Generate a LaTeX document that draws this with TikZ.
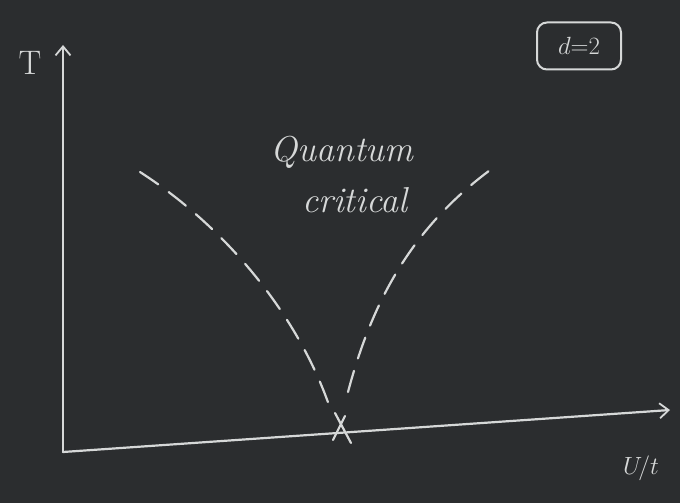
\documentclass[tikz,border=0pt]{standalone}
\usetikzlibrary{arrows.meta,calc}
\definecolor{board}{HTML}{2B2D2F}
\definecolor{chalk}{HTML}{D6D8D8}
\tikzset{
  chalkline/.style={draw=chalk, line width=2.2pt, line cap=round, line join=round},
  axisarrow/.style={chalkline, -{Straight Barb[length=9pt,width=15pt,line width=1.8pt]}},
  chalkdash/.style={chalkline, dash pattern=on 22pt off 13pt},
  chalktext/.style={text=chalk, inner sep=2pt},
}
\newcommand{\chalksize}[1]{\fontsize{#1}{#1}\selectfont\itshape}
\begin{document}
\begin{tikzpicture}[x=1pt,y=-1pt]
\fill[board] (0,0) rectangle (680,503);
\useasboundingbox (0,0) rectangle (680,503);
% axes
\coordinate (O) at (63,452);
\coordinate (Ytop) at (63,45);
\coordinate (Xend) at (670,410);
\draw[axisarrow] (O) -- (Ytop);
\draw[axisarrow] (O) -- (Xend);
% labels
\node[chalktext, font=\fontsize{34}{34}\selectfont\upshape] (T) at (30,63) {T};
\node[chalktext, font=\chalksize{34}] (U) at (641,468) {$U\!/t$};
\node[chalktext, font=\chalksize{30}, draw=chalk, line width=2pt, rounded corners=10pt, minimum width=84pt, minimum height=47pt] (d) at (579,46) {$d{=}2$};
% quantum critical point
\coordinate (QCP) at (341,428);
\draw[chalkline] ($(QCP)+(-6,-15)$) -- ($(QCP)+(10,15)$);
\draw[chalkline] ($(QCP)+(-8,12)$) -- ($(QCP)+(4,-12)$);
% crossover lines
\draw[chalkdash] (140,172) .. controls (230,230) and (300,320) .. (330,408);
\draw[chalkdash] (348,392) .. controls (375,290) and (420,220) .. (497,165);
% text
\node[chalktext, font=\chalksize{36}] (qc1) at (342,152) {Quantum};
\node[chalktext, font=\chalksize{36}] (qc2) at (355,200) {critical};
\end{tikzpicture}
\end{document}
